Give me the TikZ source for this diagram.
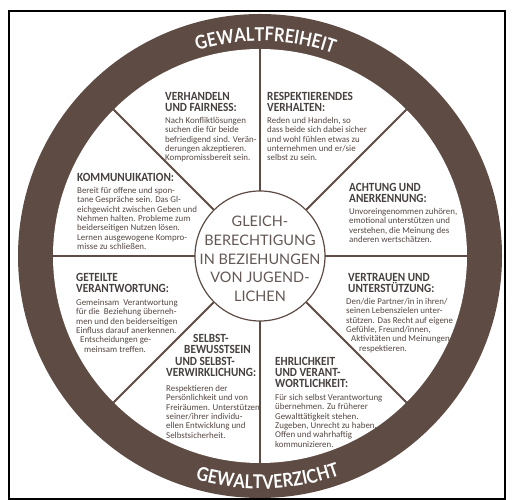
\documentclass[tikz,border=0pt]{standalone}
\usepackage{fontspec}
\setmainfont{Carlito}
\newfontfamily\titlefont[FakeStretch=0.9]{Carlito}
\newfontfamily\centerfont{Lato}
\newfontfamily\ringfont[FakeStretch=0.86]{Lato}
\usetikzlibrary{decorations.text}
\definecolor{ringc}{RGB}{94,76,68}
\definecolor{titlec}{RGB}{70,64,62}
\definecolor{bodyc}{RGB}{84,71,66}
\definecolor{centerc}{RGB}{100,88,84}
\tikzset{
  divider/.style={draw=ringc, line width=2pt},
  title/.style={font=\titlefont\bfseries\fontsize{12.5}{11}\selectfont, text=titlec, align=left, inner sep=0pt, anchor=north west},
  body/.style={font=\fontsize{8.9}{9.4}\selectfont, text=bodyc, align=left, inner sep=0pt, anchor=north west},
  hub/.style={circle, draw=ringc, line width=1.2pt, fill=white, minimum size=130pt, inner sep=0pt},
  centertext/.style={font=\centerfont\fontsize{14.5}{18.7}\selectfont, text=centerc, align=center, inner sep=0pt}
}
\begin{document}
\begin{tikzpicture}[x=1pt,y=1pt]
\useasboundingbox (0,0) rectangle (514,500);
\coordinate (C) at (260,244);
% frame
\draw[line width=2pt, black] (9,489) rectangle (505,0.8);
% ring
\fill[ringc] (C) circle (242);
\fill[white] (C) circle (207);
% dividers
\foreach \a in {0,45,...,315}
  \draw[divider, shift={(C)}] (\a:64) -- (\a:207.5);
% hub
\node[hub] (hub) at (C) {};
\node[centertext] (ctext) at (260,241) {GLEICH-\\BERECHTIGUNG\\IN BEZIEHUNGEN\\VON JUGEND-\\LICHEN};
% ring texts
\path[shift={(C)}, decorate, decoration={text along path, text align=center,
  text={|\ringfont\bfseries\fontsize{19}{19}\selectfont\color{white}|GEWALTFREIHEIT}}]
  (138.5:215) arc[start angle=138.5, end angle=38.5, radius=215];
\path[shift={(C)}, decorate, decoration={text along path, text align=center,
  text={|\ringfont\bfseries\fontsize{19}{19}\selectfont\color{white}|GEWALTVERZICHT}}]
  (222:233) arc[start angle=222, end angle=322, radius=233];
% sector 1
\node[title] (t1) at (165,408) {VERHANDELN\\UND FAIRNESS:};
\node[body] (b1) at (165,383) {Nach Konfliktlösungen\\suchen die für beide\\befriedigend sind. Verän-\\derungen akzeptieren.\\Kompromissbereit sein.};
% sector 2
\node[title] (t2) at (267,408) {RESPEKTIERENDES\\VERHALTEN:};
\node[body] (b2) at (267,383) {Reden und Handeln, so\\dass beide sich dabei sicher\\und wohl fühlen etwas zu\\unternehmen und er/sie\\selbst zu sein.};
% sector 3
\node[title] (t3) at (77,327) {KOMMUNUIKATION:};
\node[body] (b3) at (77,313) {Bereit für offene und spon-\\tane Gespräche sein. Das Gl-\\eichgewicht zwischen Geben und\\Nehmen halten. Probleme zum\\beiderseitigen Nutzen lösen.\\Lernen ausgewogene Kompro-\\misse zu schließen.};
% sector 4
\node[title] (t4) at (349,317) {ACHTUNG UND\\ANERKENNUNG:};
\node[body] (b4) at (349,292) {Unvoreingenommen zuhören,\\emotional unterstützen und\\verstehen, die Meinung des\\anderen wertschätzen.};
% sector 5
\node[title] (t5) at (348,227) {VERTRAUEN UND\\UNTERSTÜTZUNG:};
\node[body] (b5) at (346,202) {Den/die Partner/in in ihren/\\seinen Lebenszielen unter-\\stützen. Das Recht auf eigene\\Gefühle, Freund/innen,\\\hspace*{5pt}Aktivitäten und Meinungen\\\hspace*{13pt}respektieren.};
% sector 6
\node[title] (t6) at (76,227) {GETEILTE\\VERANTWORTUNG:};
\node[body] (b6) at (76,201) {Gemeinsam\ \ Verantwortung\\für die\ \ Beziehung überneh-\\men und den beiderseitigen\\Einfluss darauf anerkennen.\\\hspace*{4pt}Entscheidungen ge-\\\hspace*{8pt}meinsam treffen.};
% sector 7
\node[title, font=\titlefont\bfseries\fontsize{12.5}{11.5}\selectfont] (t7) at (166,166) {\hspace*{27pt}SELBST-\\\hspace*{18pt}BEWUSSTSEIN\\\hspace*{9pt}UND SELBST-\\VERWIRKLICHUNG:};
\node[body] (b7) at (166,115) {Respektieren der\\Persönlichkeit und von\\Freiräumen. Unterstützen\\seiner/ihrer individu-\\ellen Entwicklung und\\Selbstsicherheit.};
% sector 8
\node[title] (t8) at (275,143) {EHRLICHKEIT\\UND VERANT-\\WORTLICHKEIT:};
\node[body] (b8) at (275,106) {Für sich selbst Verantwortung\\übernehmen. Zu früherer\\Gewalttätigkeit stehen.\\Zugeben, Unrecht zu haben.\\Offen und wahrhaftig\\kommunizieren.};
\end{tikzpicture}
\end{document}
